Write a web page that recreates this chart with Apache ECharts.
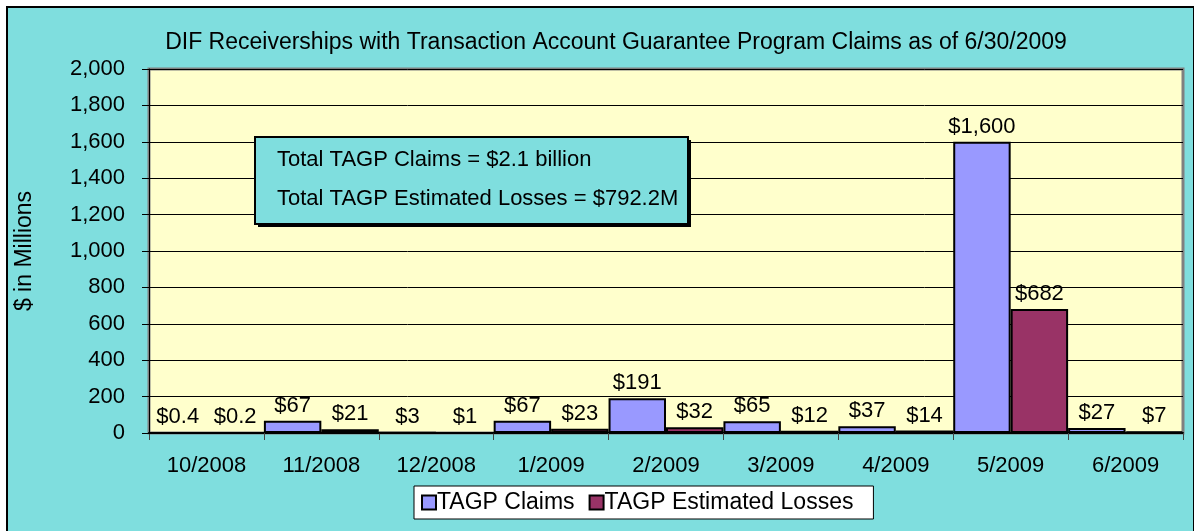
<!DOCTYPE html>
<html lang="en">
<head>
    <meta charset="UTF-8">
    <title>DIF Receiverships</title>
    <script src="https://cdn.jsdelivr.net/npm/echarts/dist/echarts.min.js"></script>
    <style>
        body { margin: 0; background: #fff; }
        #chart { width: 1194px; height: 531px; }
    </style>
</head>
<body>
    <div id="chart"></div>
    <script type="text/javascript">
        // data
        var months = ['10/2008', '11/2008', '12/2008', '1/2009', '2/2009', '3/2009', '4/2009', '5/2009', '6/2009'];
        var claims = [0.4, 67, 3, 67, 191, 65, 37, 1600, 27];
        var losses = [0.2, 21, 1, 23, 32, 12, 14, 682, 7];
        var noteLines = ['Total TAGP Claims = $2.1 billion', 'Total TAGP Estimated Losses = $792.2M'];

        var font = 'Arial, "Liberation Sans", sans-serif';

        function money(p) {
            return '$' + p.value.toLocaleString('en-US');
        }

        var chart = echarts.init(document.getElementById('chart'));
        chart.setOption({
            backgroundColor: '#fff',
            animation: false,
            textStyle: { fontFamily: font, color: '#000' },
            title: {
                text: 'DIF Receiverships with Transaction Account Guarantee Program Claims as of 6/30/2009',
                left: 611, top: 26, textAlign: 'center',
                textStyle: { fontSize: 23, fontWeight: 'normal', color: '#000' }
            },
            legend: {
                left: 414, top: 486,
                padding: [5, 20, 5, 7],
                backgroundColor: '#fff',
                borderColor: '#000',
                borderWidth: 1,
                itemWidth: 14, itemHeight: 14, itemGap: 14,
                icon: 'rect',
                textStyle: { fontSize: 23, color: '#000', padding: [0, 0, 0, -4] }
            },
            grid: { left: 149, right: 11, top: 69, bottom: 98 },
            xAxis: {
                type: 'category',
                data: months,
                axisLine: { lineStyle: { color: '#000', width: 2 } },
                axisTick: { show: true, length: 7, lineStyle: { color: '#444' } },
                axisLabel: { fontSize: 22, color: '#000', margin: 22 }
            },
            yAxis: {
                type: 'value',
                min: 0, max: 2000, interval: 200,
                name: '$ in Millions',
                nameLocation: 'middle',
                nameGap: 113,
                nameTextStyle: { fontSize: 23, color: '#000' },
                axisLine: { show: true, lineStyle: { color: '#000', width: 1 } },
                axisTick: { show: true, length: 7, lineStyle: { color: '#000' } },
                axisLabel: {
                    fontSize: 22, color: '#000', margin: 24,
                    formatter: function (v) { return v.toLocaleString('en-US'); }
                },
                splitLine: { lineStyle: { color: '#000', width: 1 } }
            },
            series: [
                {
                    name: 'TAGP Claims', type: 'bar', data: claims,
                    barGap: '0%', barCategoryGap: '0%',
                    itemStyle: { color: '#9999FF', borderColor: '#000', borderWidth: 2 },
                    label: { show: true, position: 'top', fontSize: 22, color: '#000', distance: 4, formatter: money }
                },
                {
                    name: 'TAGP Estimated Losses', type: 'bar', data: losses,
                    barGap: '0%', barCategoryGap: '0%',
                    itemStyle: { color: '#993366', borderColor: '#000', borderWidth: 2 },
                    label: { show: true, position: 'top', fontSize: 22, color: '#000', distance: 4, formatter: money }
                }
            ],
            graphic: [
                {
                    type: 'rect', z: -10, silent: true,
                    shape: { x: 7, y: 7, width: 1187, height: 530 },
                    style: { fill: '#7FDEDE', stroke: '#000', lineWidth: 2 }
                },
                {
                    type: 'rect', z: -9, silent: true,
                    shape: { x: 149, y: 69, width: 1034, height: 364 },
                    style: { fill: '#FFFFCC', stroke: '#808080', lineWidth: 3 }
                },
                {
                    type: 'rect', z: 50, silent: true,
                    shape: { x: 258, y: 140, width: 433, height: 87 },
                    style: { fill: '#000' }
                },
                {
                    type: 'rect', z: 51, silent: true,
                    shape: { x: 255, y: 137, width: 433, height: 87 },
                    style: { fill: '#7FDEDE', stroke: '#000', lineWidth: 2 }
                },
                {
                    type: 'text', z: 52, silent: true, left: 277, top: 149,
                    style: { text: noteLines[0], font: '22px ' + font, fill: '#000' }
                },
                {
                    type: 'text', z: 52, silent: true, left: 277, top: 188,
                    style: { text: noteLines[1], font: '22px ' + font, fill: '#000' }
                }
            ]
        });
    </script>
</body>
</html>
